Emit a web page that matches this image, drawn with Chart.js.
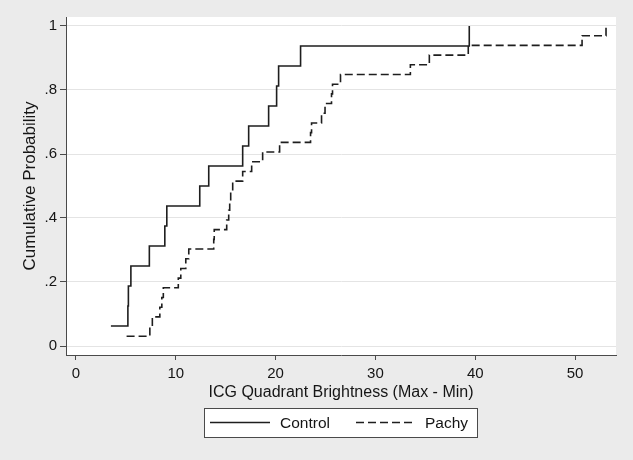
<!DOCTYPE html>
<html>
<head>
<meta charset="utf-8">
<script src="https://cdn.jsdelivr.net/npm/chart.js@4/dist/chart.umd.min.js"></script>
<style>
html,body{margin:0;padding:0;background:#ebebeb;}
canvas{display:block;}
</style>
</head>
<body>
<canvas id="c" width="633" height="460"></canvas>
<script>
// ---- data ----
const controlX = [3.5, 5.2, 5.25, 5.5, 7.35, 8.9, 9.1, 12.4, 13.3, 16.7, 17.3, 19.3, 20.1, 20.3, 22.5, 39.4];
const controlP = [0.0625, 0.125, 0.1875, 0.25, 0.3125, 0.375, 0.4375, 0.5, 0.5625, 0.625, 0.6875, 0.75, 0.8125, 0.875, 0.9375, 1];
const pachyX = [5.07, 7.4, 7.65, 8.4, 8.6, 8.75, 10.25, 10.5, 11.0, 11.3, 13.8, 13.85, 15.1, 15.3, 15.4, 15.5, 15.7, 16.7, 17.6, 18.7, 20.4, 23.5, 23.6, 24.6, 24.95, 25.6, 25.7, 26.5, 33.5, 35.4, 39.3, 50.7, 53.1];
const pachyP = [0.0303, 0.0606, 0.0909, 0.1212, 0.1515, 0.1818, 0.2121, 0.2424, 0.2727, 0.3030, 0.3333, 0.3636, 0.3939, 0.4242, 0.4545, 0.4848, 0.5152, 0.5455, 0.5758, 0.6061, 0.6364, 0.6667, 0.6970, 0.7273, 0.7576, 0.7879, 0.8182, 0.8485, 0.8788, 0.9091, 0.9394, 0.9697, 1];
const seriesNames = ['Control', 'Pachy'];
const xTicks = [0, 10, 20, 30, 40, 50];
const xTickLabels = ['0', '10', '20', '30', '40', '50'];
const yTicks = [0, 0.2, 0.4, 0.6, 0.8, 1];
const yTickLabels = ['0', '.2', '.4', '.6', '.8', '1'];
const xTitle = 'ICG Quadrant Brightness (Max - Min)';
const yTitle = 'Cumulative Probability';

const FONT = "'Liberation Sans', Arial, Helvetica, sans-serif";
const INK = '#151515';
const AXIS = '#4a4a4a';

const bgPlugin = {
  id: 'bg',
  beforeDraw(chart) {
    const {ctx, chartArea: a} = chart;
    ctx.save();
    ctx.fillStyle = '#ebebeb';
    ctx.fillRect(0, 0, chart.width, chart.height);
    ctx.fillStyle = '#ffffff';
    ctx.fillRect(a.left, a.top, a.right - a.left, a.bottom - a.top);
    ctx.restore();
  }
};

const legendPlugin = {
  id: 'stataLegend',
  afterDraw(chart) {
    const ctx = chart.ctx;
    ctx.save();
    ctx.fillStyle = '#ffffff';
    ctx.fillRect(204, 408, 274, 30);
    ctx.strokeStyle = AXIS;
    ctx.lineWidth = 1;
    ctx.strokeRect(204.5, 408.5, 273, 29);
    const ds = chart.data.datasets;
    const items = [
      {x0: 210, x1: 270, tx: 280},
      {x0: 356, x1: 414, tx: 425}
    ];
    items.forEach((it, i) => {
      ctx.beginPath();
      ctx.strokeStyle = ds[i].borderColor;
      ctx.lineWidth = ds[i].borderWidth;
      ctx.setLineDash(ds[i].borderDash || []);
      ctx.moveTo(it.x0, 422.5);
      ctx.lineTo(it.x1, 422.5);
      ctx.stroke();
      ctx.setLineDash([]);
      ctx.fillStyle = INK;
      ctx.font = '15.5px ' + FONT;
      ctx.textBaseline = 'middle';
      ctx.textAlign = 'left';
      ctx.fillText(ds[i].label, it.tx, 423.5);
    });
    ctx.restore();
  }
};

new Chart(document.getElementById('c'), {
  type: 'line',
  data: {
    datasets: [
      {
        label: seriesNames[0],
        data: controlX.map((x, i) => ({x: x, y: controlP[i]})),
        stepped: true,
        borderColor: '#1e1e1e',
        borderWidth: 1.6,
        pointRadius: 0,
        fill: false
      },
      {
        label: seriesNames[1],
        data: pachyX.map((x, i) => ({x: x, y: pachyP[i]})),
        stepped: true,
        borderColor: '#1e1e1e',
        borderWidth: 1.6,
        borderDash: [8, 4],
        pointRadius: 0,
        fill: false
      }
    ]
  },
  options: {
    responsive: false,
    animation: false,
    devicePixelRatio: 1,
    layout: {padding: {left: 0, right: 17, top: 17, bottom: 0}},
    plugins: {legend: {display: false}, tooltip: {enabled: false}},
    scales: {
      x: {
        type: 'linear',
        min: -1,
        max: 54.1,
        afterBuildTicks: s => { s.ticks = xTicks.map(v => ({value: v})); },
        afterFit: s => { s.height = 105; },
        ticks: {
          callback: (v) => { const i = xTicks.indexOf(v); return i >= 0 ? xTickLabels[i] : ''; },
          color: INK,
          font: {family: FONT, size: 15},
          padding: 5,
          maxRotation: 0,
          autoSkip: false
        },
        grid: {drawOnChartArea: false, drawTicks: true, tickLength: 5, tickColor: AXIS},
        border: {display: true, color: AXIS, width: 1},
        title: {
          display: true,
          text: xTitle,
          color: INK,
          font: {family: FONT, size: 16},
          padding: {top: 0, bottom: 57.5}
        }
      },
      y: {
        type: 'linear',
        min: -0.028125,
        max: 1.028125,
        afterBuildTicks: s => { s.ticks = yTicks.map(v => ({value: v})); },
        afterFit: s => { s.width = 66; },
        ticks: {
          callback: (v) => { const i = yTicks.findIndex(t => Math.abs(t - v) < 1e-9); return i >= 0 ? yTickLabels[i] : ''; },
          color: INK,
          font: {family: FONT, size: 15},
          padding: 3,
          autoSkip: false
        },
        grid: {drawOnChartArea: true, color: '#e4e4e4', lineWidth: 1, drawTicks: true, tickLength: 6, tickColor: AXIS},
        border: {display: true, color: AXIS, width: 1},
        title: {
          display: true,
          text: yTitle,
          color: INK,
          font: {family: FONT, size: 17},
          padding: {top: 19.8, bottom: 0}
        }
      }
    }
  },
  plugins: [bgPlugin, legendPlugin]
});
</script>
</body>
</html>
